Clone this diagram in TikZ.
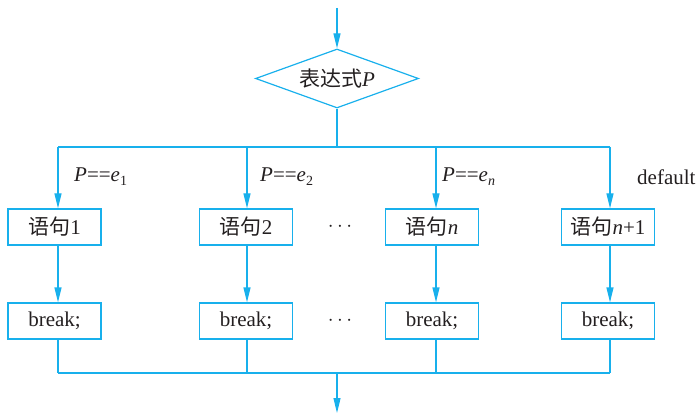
\documentclass[tikz,border=0pt]{standalone}
\usepackage{fontspec}
\setmainfont{Liberation Serif}
\newfontfamily\cjk{Noto Sans CJK SC}
\usetikzlibrary{shapes.geometric,arrows.meta}
\definecolor{flow}{RGB}{24,176,236}
\definecolor{ink}{RGB}{35,31,32}
\tikzset{
  flowline/.style={draw=flow,line width=1.2pt},
  arr/.style={flowline,-{Triangle[length=15pt,width=7pt]}},
  stmt/.style={draw=flow,line width=1.2pt,minimum width=93pt,minimum height=36pt,inner sep=0pt,font=\fontsize{21}{23}\selectfont,text=ink},
  lbl/.style={anchor=west,inner sep=0pt,font=\fontsize{21}{23}\selectfont,text=ink},
}
\begin{document}
\begin{tikzpicture}[x=1pt,y=-1pt]
\useasboundingbox (0,0) rectangle (699,414);
\coordinate (top) at (337,8);
\node[diamond,draw=flow,line width=1.2pt,minimum width=163pt,minimum height=59pt,inner sep=0pt,aspect=2.76,font=\fontsize{21}{23}\selectfont,text=ink] (d) at (337,78.5) {{\cjk 表达式}\textit{P}};
\coordinate (j) at (337,147);
\coordinate (c1) at (58,147);
\coordinate (c2) at (247,147);
\coordinate (c3) at (436,147);
\coordinate (c4) at (610,147);
\node[stmt] (s1) at (54.5,227) {{\cjk 语句}1};
\node[stmt] (s2) at (246,227) {{\cjk 语句}2};
\node[stmt] (s3) at (432,227) {{\cjk 语句}\textit{n}};
\node[stmt] (s4) at (608,227) {{\cjk 语句}\textit{n}+1};
\node[stmt] (b1) at (54.5,321) {break;};
\node[stmt] (b2) at (246,321) {break;};
\node[stmt] (b3) at (432,321) {break;};
\node[stmt] (b4) at (608,321) {break;};
\node[inner sep=0pt,text=ink] (dots1) at (340,227) {\fontsize{22}{24}\selectfont$\cdots$};
\node[inner sep=0pt,text=ink] (dots2) at (340,321) {\fontsize{22}{24}\selectfont$\cdots$};
\node[lbl] (l1) at (74,177) {\textit{P}==\textit{e}\raisebox{-0.4ex}{\fontsize{14}{16}\selectfont 1}};
\node[lbl] (l2) at (260,177) {\textit{P}==\textit{e}\raisebox{-0.4ex}{\fontsize{14}{16}\selectfont 2}};
\node[lbl] (l3) at (442,177) {\textit{P}==\textit{e}\raisebox{-0.4ex}{\fontsize{14}{16}\selectfont\textit{n}}};
\node[lbl] (l4) at (637,177) {default};
\coordinate (m1) at (58,373);
\coordinate (m4) at (610,373);
\coordinate (m) at (337,373);
\coordinate (bot) at (337,413);
\draw[arr] (top) -- (d.north);
\draw[flowline] (d.south) -- (j);
\draw[flowline] (c1) -- (c4);
\foreach \i in {1,2,3,4}{
  \draw[arr] (c\i) -- (c\i |- s\i.north);
  \draw[arr] (c\i |- s\i.south) -- (c\i |- b\i.north);
  \draw[flowline] (c\i |- b\i.south) -- (c\i |- m);
}
\draw[flowline] (m1) -- (m4);
\draw[arr] (m) -- (bot);
\end{tikzpicture}
\end{document}
